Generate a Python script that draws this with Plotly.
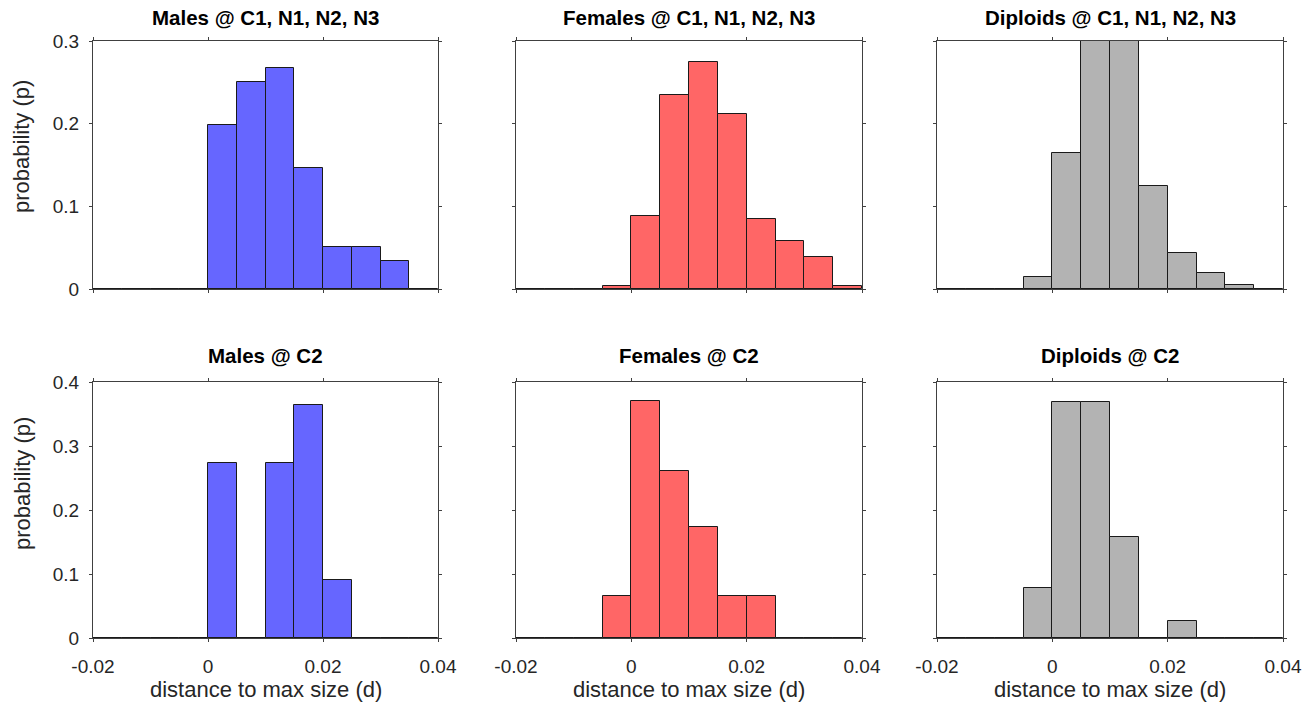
import plotly.graph_objects as go

# bin centres of the histograms (bin width 0.005, from -0.02 to 0.04)
bin_centers = [-0.0175, -0.0125, -0.0075, -0.0025, 0.0025, 0.0075,
               0.0125, 0.0175, 0.0225, 0.0275, 0.0325, 0.0375]
bin_width = 0.005

males_c1 = [0, 0, 0, 0, 0.198, 0.250, 0.267, 0.146, 0.051, 0.051, 0.034, 0]
females_c1 = [0, 0, 0, 0.0036, 0.088, 0.235, 0.274, 0.212, 0.085, 0.058, 0.0385, 0.0036]
diploids_c1 = [0, 0, 0, 0.015, 0.164, 0.31, 0.31, 0.124, 0.044, 0.019, 0.0045, 0]

males_c2 = [0, 0, 0, 0, 0.2727, 0, 0.2727, 0.3636, 0.0909, 0, 0, 0]
females_c2 = [0, 0, 0, 0.0652, 0.3696, 0.2609, 0.1739, 0.0652, 0.0652, 0, 0, 0]
diploids_c2 = [0, 0, 0, 0.0789, 0.3684, 0.3684, 0.1579, 0, 0.0263, 0, 0, 0]

titles = ["Males @ C1, N1, N2, N3", "Females @ C1, N1, N2, N3", "Diploids @ C1, N1, N2, N3",
          "Males @ C2", "Females @ C2", "Diploids @ C2"]
series = [males_c1, females_c1, diploids_c1, males_c2, females_c2, diploids_c2]
colors = ["#6666FF", "#FF6666", "#B3B3B3"]

x_tick_vals = [-0.02, 0, 0.02, 0.04]
x_tick_text = ["-0.02", "0", "0.02", "0.04"]
y_ticks_top = [0, 0.1, 0.2, 0.3]
y_ticks_bottom = [0, 0.1, 0.2, 0.3, 0.4]
y_title = "probability (p)"
x_title = "distance to max size (d)"

W, H = 1306, 704
col_px = [(93, 438), (516, 862), (937, 1283)]
row_px = [(41, 289), (382, 638)]


def px_x(p):
    return p / W


def px_y(p):
    return 1 - p / H


FONT = "Liberation Sans, Arial, sans-serif"
AX = "#404040"
TXT = "#262626"

fig = go.Figure()
annotations = []
for i, vals in enumerate(series):
    r, c = divmod(i, 3)
    n = i + 1
    xa = "x" if n == 1 else f"x{n}"
    ya = "y" if n == 1 else f"y{n}"
    fig.add_trace(go.Bar(
        x=bin_centers, y=vals, width=[bin_width] * len(bin_centers),
        marker=dict(color=colors[c], line=dict(color="#1a1a1a", width=1)),
        xaxis=xa, yaxis=ya, showlegend=False, hoverinfo="x+y"))
    x0, x1 = col_px[c]
    y0, y1 = row_px[r]
    xdom = [px_x(x0), px_x(x1)]
    ydom = [px_y(y1), px_y(y0)]
    yt = y_ticks_top if r == 0 else y_ticks_bottom
    xkey = "xaxis" if n == 1 else f"xaxis{n}"
    ykey = "yaxis" if n == 1 else f"yaxis{n}"
    fig.layout[xkey] = dict(
        domain=xdom, anchor=ya, range=[-0.02, 0.04], automargin=False,
        tickvals=x_tick_vals, ticktext=x_tick_text,
        showticklabels=(r == 1), ticks="outside", ticklen=3, tickcolor=AX,
        showline=True, linecolor=AX, linewidth=1.3, mirror="allticks",
        showgrid=False, zeroline=False, ticklabelstandoff=8,
        tickfont=dict(family=FONT, size=19, color=TXT))
    fig.layout[ykey] = dict(
        domain=ydom, anchor=xa, range=[0, yt[-1]], automargin=False,
        tickvals=yt, ticktext=[("0" if v == 0 else f"{v:.1f}") for v in yt],
        showticklabels=(c == 0), ticks="outside", ticklen=3, tickcolor=AX,
        showline=True, linecolor=AX, linewidth=1.3, mirror="allticks",
        showgrid=False, zeroline=False, ticklabelstandoff=6,
        tickfont=dict(family=FONT, size=19, color=TXT))
    # panel title
    title_y = 18 if r == 0 else 355
    annotations.append(dict(
        text=f"<b>{titles[i]}</b>", xref="paper", yref="paper",
        x=px_x((x0 + x1) / 2), y=px_y(title_y), xanchor="center", yanchor="middle",
        showarrow=False, font=dict(family=FONT, size=20.5, color="#000000")))
    if r == 1:
        annotations.append(dict(
            text=x_title, xref="paper", yref="paper",
            x=px_x((x0 + x1) / 2), y=px_y(689), xanchor="center", yanchor="middle",
            showarrow=False, font=dict(family=FONT, size=22, color=TXT)))
    if c == 0:
        yc = 147 if r == 0 else 484
        annotations.append(dict(
            text=y_title, xref="paper", yref="paper", textangle=-90,
            x=px_x(22), y=px_y(yc), xanchor="center", yanchor="middle",
            showarrow=False, font=dict(family=FONT, size=22, color=TXT)))

fig.update_layout(
    width=W, height=H, margin=dict(l=0, r=0, t=0, b=0, autoexpand=False),
    paper_bgcolor="white", plot_bgcolor="white",
    bargap=0, annotations=annotations, showlegend=False)

fig.write_html(
    "out.html",
    config={"displayModeBar": False},
    post_script="document.body.style.margin='0';document.body.style.overflow='hidden';")
